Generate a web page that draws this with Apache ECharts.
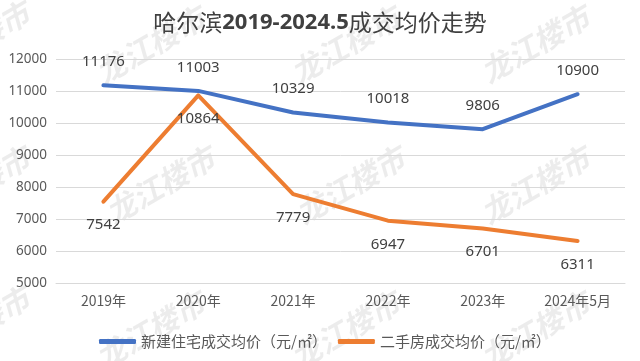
<!DOCTYPE html>
<html>
<head>
<meta charset="utf-8">
<script src="https://cdn.jsdelivr.net/npm/echarts@6/dist/echarts.min.js"></script>
<style>html,body{margin:0;padding:0;background:#fff;}#c{width:640px;height:361px;}</style>
</head>
<body>
<div id="c"></div>
<script>
var categories = ['2019年', '2020年', '2021年', '2022年', '2023年', '2024年5月'];
var newHouse = [11176, 11003, 10329, 10018, 9806, 10900];
var secondHand = [7542, 10864, 7779, 6947, 6701, 6311];
var seriesNames = ['新建住宅成交均价（元/㎡）', '二手房成交均价（元/㎡）'];
var yTicks = { min: 5000, max: 12000, interval: 1000 };

var wmPos = [[-25,40],[150,45],[345,45],[535,44],[-25,185],[160,185],[350,185],[535,185],[-25,325],[150,330],[345,330],[535,330]];
var graphics = wmPos.map(function (p) {
  return {
    type: 'text', x: p[0], y: p[1], rotation: Math.PI / 6, z: -10,
    style: {
      text: '龙江楼市', fill: 'rgba(0,0,0,0.075)',
      font: 'italic bold 30px "Noto Sans CJK SC"', align: 'center', verticalAlign: 'middle'
    }
  };
});

var chart = echarts.init(document.getElementById('c'), null, { renderer: 'canvas' });
chart.setOption({
  backgroundColor: '#ffffff',
  animation: false,
  graphic: graphics,
  title: {
    left: 'center', top: 6,
    text: '{a|哈尔滨}{b|2019-2024.5}{a|成交均价走势}',
    textStyle: {
      rich: {
        a: { fontSize: 23, color: '#404040', fontFamily: '"Noto Sans CJK SC"', fontWeight: 'normal' },
        b: { fontSize: 22, color: '#404040', fontFamily: '"Noto Sans"', fontWeight: 'bold' }
      }
    }
  },
  legend: {
    left: 94, top: 329,
    icon: 'roundRect', itemWidth: 37, itemHeight: 5, itemGap: 11,
    textStyle: { color: '#595959', fontSize: 15, fontFamily: '"Noto Sans CJK SC"' },
    data: seriesNames
  },
  grid: { left: 56, right: 15, top: 59, bottom: 78 },
  xAxis: {
    type: 'category', data: categories, boundaryGap: true,
    axisLine: { show: true, lineStyle: { color: '#d9d9d9', width: 1 } },
    axisTick: { show: false },
    axisLabel: { color: '#595959', fontSize: 14, margin: 11, fontFamily: '"Noto Sans CJK SC"' }
  },
  yAxis: {
    type: 'value', min: yTicks.min, max: yTicks.max, interval: yTicks.interval,
    axisLine: { show: false }, axisTick: { show: false },
    splitLine: { lineStyle: { color: '#d9d9d9', width: 1 } },
    axisLabel: { color: '#595959', fontSize: 13.5, margin: 9, fontFamily: '"Noto Sans"',
      formatter: function (v) { return String(v); } }
  },
  series: [
    {
      name: seriesNames[0], type: 'line', data: newHouse,
      symbol: 'circle', symbolSize: 0.1, smooth: false,
      lineStyle: { color: '#4472C4', width: 4, cap: 'round', join: 'round' },
      itemStyle: { color: '#4472C4' },
      label: { show: true, position: 'top', distance: 16, color: '#404040', fontSize: 15, fontFamily: '"Noto Sans"' },
      z: 3
    },
    {
      name: seriesNames[1], type: 'line', data: secondHand,
      symbol: 'circle', symbolSize: 0.1, smooth: false,
      lineStyle: { color: '#ED7D31', width: 4, cap: 'round', join: 'round' },
      itemStyle: { color: '#ED7D31' },
      label: { show: true, position: 'bottom', distance: 16, color: '#404040', fontSize: 15, fontFamily: '"Noto Sans"' },
      z: 2
    }
  ]
});
</script>
</body>
</html>
